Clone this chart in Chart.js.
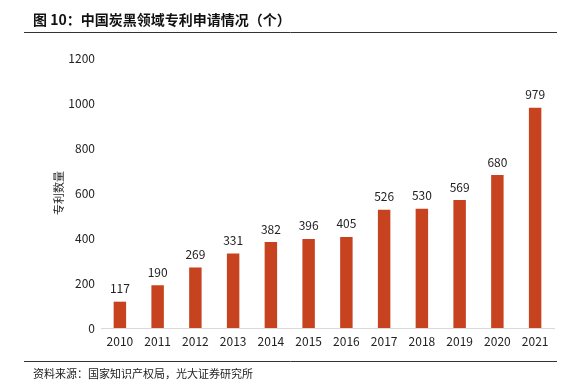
<!DOCTYPE html>
<html><head><meta charset="utf-8">
<script src="https://cdn.jsdelivr.net/npm/chart.js@4.4.0/dist/chart.umd.min.js"></script>
<style>html,body{margin:0;padding:0;background:#fff;}#wrap{position:relative;width:581px;height:385px;}</style>
</head><body><div id="wrap"><canvas id="c" width="581" height="385"></canvas></div>
<script>
const categories = ["2010","2011","2012","2013","2014","2015","2016","2017","2018","2019","2020","2021"];
const patents = [117,190,269,331,382,396,405,526,530,569,680,979];
const yTicks = [0,200,400,600,800,1000,1200];
const titleText = "图 10：中国炭黑领域专利申请情况（个）";
const sourceText = "资料来源：国家知识产权局，光大证券研究所";
const yTitle = "专利数量";
const FONT = "'Noto Sans CJK SC','Noto Sans',sans-serif";

const decor = {
  id:'decor',
  afterDraw(chart){
    const ctx = chart.ctx;
    ctx.save();
    ctx.fillStyle = '#111';
    ctx.font = "bold 14px " + FONT;
    ctx.textBaseline = 'middle';
    ctx.textAlign = 'left';
    ctx.fillText(titleText, 33, 20);
    ctx.strokeStyle = '#333';
    ctx.lineWidth = 1;
    ctx.beginPath(); ctx.moveTo(24, 32.5); ctx.lineTo(557, 32.5); ctx.stroke();
    ctx.beginPath(); ctx.moveTo(24, 361.5); ctx.lineTo(557, 361.5); ctx.stroke();
    ctx.font = "11px " + FONT;
    ctx.fillStyle = '#222';
    ctx.fillText(sourceText, 33, 374);
    const meta = chart.getDatasetMeta(0);
    ctx.font = "12px " + FONT;
    ctx.fillStyle = '#222';
    ctx.textAlign = 'center';
    ctx.textBaseline = 'bottom';
    meta.data.forEach((bar, i) => {
      ctx.fillText(String(patents[i]), bar.x, bar.y - 7);
    });
    ctx.restore();
  }
};

new Chart(document.getElementById('c'), {
  type: 'bar',
  data: { labels: categories, datasets: [{ data: patents, backgroundColor: '#C7421F', barPercentage: 0.33, categoryPercentage: 1 }] },
  options: {
    responsive: false, animation: false,
    layout: { padding: { left: 52, top: 58, right: 27, bottom: 35 } },
    plugins: { legend: { display: false }, tooltip: { enabled: false } },
    scales: {
      x: {
        grid: { display: false, drawTicks: false },
        border: { display: true, color: '#d9d9d9', width: 1 },
        ticks: { color: '#222', font: { size: 12, family: FONT }, padding: 6, maxRotation: 0 },
        afterFit(s){ s.height = 22; }
      },
      y: {
        min: 0, max: 1200,
        afterBuildTicks(s){ s.ticks = yTicks.map(v => ({ value: v })); },
        grid: { display: false, drawTicks: false },
        border: { display: false },
        ticks: { color: '#222', font: { size: 12, family: FONT }, padding: 6, callback: v => String(v) },
        title: { display: true, text: yTitle, color: '#222', font: { size: 11, family: FONT }, padding: 0 },
        afterFit(s){ s.width = 49; }
      }
    }
  },
  plugins: [decor]
});
</script></body></html>
